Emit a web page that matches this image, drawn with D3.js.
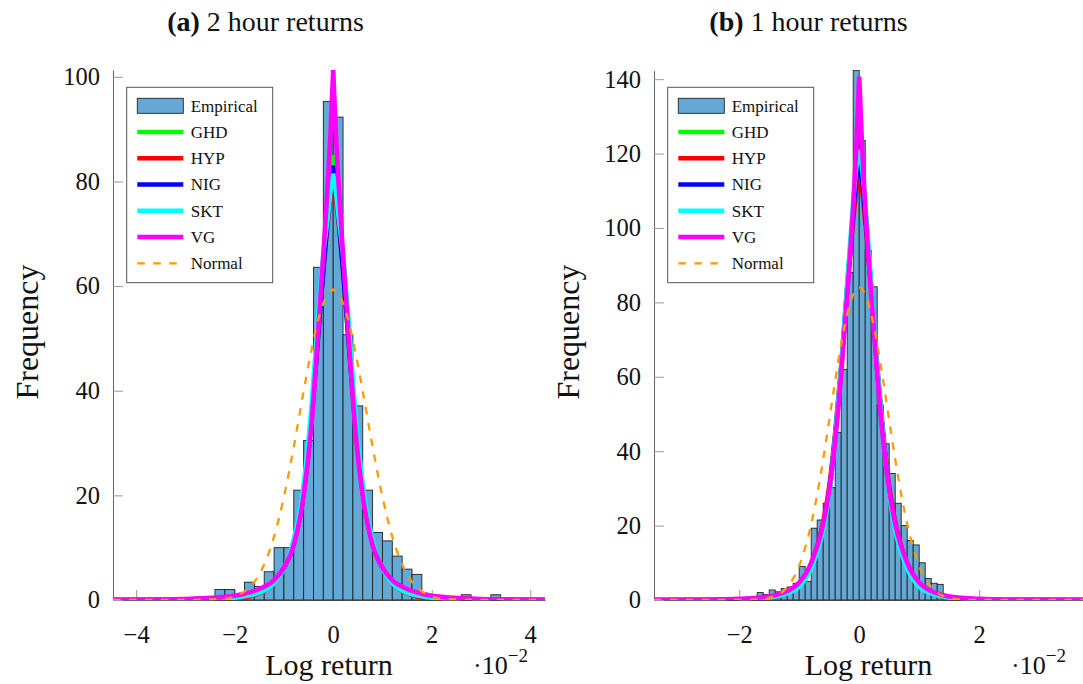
<!DOCTYPE html>
<html>
<head>
<meta charset="utf-8">
<script src="https://cdn.jsdelivr.net/npm/d3@7"></script>
<style>
	body { margin: 0; background: #fff; }
	svg { display: block; font-family: "Liberation Serif", "DejaVu Serif", serif; }
</style>
</head>
<body>
<svg id="chart" width="1083" height="684"></svg>
<script>
/**
 * Values. Log returns are in units of 10^-2.
 */

// (a) 2 hour returns: histogram, bin width 0.2 starting at -2.4
let binStartA = -2.4;
let binWidthA = 0.2;
let freqA = [2, 2, 1, 3.4, 2.6, 5.4, 10, 10, 21, 30.5, 63.6, 95.3, 92.3, 50.7, 37.1, 21, 12.9, 11.3, 8.4, 5.9, 4.9, 1, 0.5, 0, 0, 1, 0, 0, 1];

// (a) fitted densities, sampled at gridA
let gridA = [-4.47, -3.0, -2.2, -1.8, -1.5, -1.2, -1.0, -0.8, -0.6, -0.45, -0.3, -0.2, -0.1, -0.05, 0, 0.05, 0.1, 0.2, 0.3, 0.45, 0.6, 0.8, 1.0, 1.2, 1.5, 1.8, 2.2, 3.0, 4.30];
let ghdA = [0.02, 0.1, 0.4, 0.9, 1.8, 3.5, 6.0, 10.8, 20.5, 33.5, 51, 63, 75, 81, 85, 81, 75, 63, 51, 33.5, 20.5, 10.8, 6.0, 3.5, 1.8, 0.9, 0.4, 0.1, 0.02];
let hypA = [0, 0.02, 0.15, 0.5, 1.3, 3.2, 6.0, 11.3, 21.5, 34.5, 52, 63.5, 73, 77, 79.7, 77, 73, 63.5, 52, 34.5, 21.5, 11.3, 6.0, 3.2, 1.3, 0.5, 0.15, 0.02, 0];
let nigA = [0.02, 0.1, 0.4, 0.95, 1.9, 3.6, 6.1, 10.8, 20.5, 33.5, 51, 63, 74, 79.5, 83, 79.5, 74, 63, 51, 33.5, 20.5, 10.8, 6.1, 3.6, 1.9, 0.95, 0.4, 0.1, 0.02];
let sktA = [0.03, 0.1, 0.3, 0.7, 1.4, 3.2, 6.0, 11.5, 22, 36, 55, 66, 74, 78.5, 81.5, 78.5, 74, 66, 55, 36, 22, 11.5, 6.0, 3.2, 1.4, 0.7, 0.3, 0.1, 0.03];
let vgA = [0.06, 0.2, 0.6, 1.2, 2.1, 3.8, 6.2, 10.5, 20, 32.5, 52, 66, 81, 90, 101.3, 90, 81, 66, 52, 32.5, 20, 10.5, 6.2, 3.8, 2.1, 1.2, 0.6, 0.2, 0.06];
let normA = [0, 0.003, 0.28, 1.66, 4.9, 12.1, 19.7, 29.3, 39.9, 47.4, 53.7, 56.7, 58.6, 59.1, 59.3, 59.1, 58.6, 56.7, 53.7, 47.4, 39.9, 29.3, 19.7, 12.1, 4.9, 1.66, 0.28, 0.003, 0];

// (b) 1 hour returns: histogram, bin width 0.1 starting at -2.2
let binStartB = -2.2;
let binWidthB = 0.1;
let freqB = [0.5, 0.5, 0, 0, 0.5, 2, 1.5, 2.7, 2.2, 3.1, 3.5, 4.5, 9, 5, 19.3, 21.5, 26, 30.2, 45, 62, 88, 142.3, 123.5, 94, 84.2, 52.4, 42, 34, 26, 20, 16, 14.8, 10, 5.8, 4.5, 4.2, 1.3, 0.9, 0.4];

// (b) fitted densities, sampled at gridB
let gridB = [-3.42, -2.5, -2.0, -1.7, -1.4, -1.2, -1.0, -0.8, -0.6, -0.5, -0.4, -0.3, -0.2, -0.1, -0.05, 0, 0.05, 0.1, 0.2, 0.3, 0.4, 0.5, 0.6, 0.8, 1.0, 1.2, 1.4, 1.7, 2.0, 2.5, 3.73];
let ghdB = [0.01, 0.06, 0.18, 0.4, 1.0, 2.1, 4.4, 9.5, 20, 29, 44, 62, 84, 105, 114, 118.5, 114, 105, 84, 62, 44, 29, 20, 9.5, 4.4, 2.1, 1.0, 0.4, 0.18, 0.06, 0.01];
let hypB = [0, 0.01, 0.07, 0.25, 0.8, 1.9, 4.3, 9.8, 21, 30.5, 45, 63, 84, 102, 110, 113, 110, 102, 84, 63, 45, 30.5, 21, 9.8, 4.3, 1.9, 0.8, 0.25, 0.07, 0.01, 0];
let nigB = [0.01, 0.06, 0.18, 0.4, 1.0, 2.1, 4.4, 9.5, 20, 29, 44, 62, 84, 104, 113, 117, 113, 104, 84, 62, 44, 29, 20, 9.5, 4.4, 2.1, 1.0, 0.4, 0.18, 0.06, 0.01];
let sktB = [0.02, 0.06, 0.15, 0.35, 0.9, 1.8, 3.6, 8.5, 19, 28.5, 44, 63, 85, 107, 116, 121, 116, 107, 85, 63, 44, 28.5, 19, 8.5, 3.6, 1.8, 0.9, 0.35, 0.15, 0.06, 0.02];
let vgB = [0.04, 0.12, 0.3, 0.6, 1.3, 2.4, 4.7, 10, 20.5, 29.5, 43, 61, 82, 106, 121, 140.7, 121, 106, 82, 61, 43, 29.5, 20.5, 10, 4.7, 2.4, 1.3, 0.6, 0.3, 0.12, 0.03];
let normB = [0, 0, 0.01, 0.14, 1.09, 3.45, 9.2, 20.4, 37.8, 48.3, 58.9, 68.8, 76.9, 82.2, 83.5, 84, 83.5, 82.2, 76.9, 68.8, 58.9, 48.3, 37.8, 20.4, 9.2, 3.45, 1.09, 0.14, 0.01, 0, 0];

// Tick values
let xTicksA = [-4, -2, 0, 2, 4];
let yTicksA = [0, 20, 40, 60, 80, 100];
let xTicksB = [-2, 0, 2];
let yTicksB = [0, 20, 40, 60, 80, 100, 120, 140];

// Series styling (legend order = drawing order)
let fits = [
	{ name: "GHD", color: "#00ff00" },
	{ name: "HYP", color: "#ff0000" },
	{ name: "NIG", color: "#0000ff" },
	{ name: "SKT", color: "#00ffff" },
	{ name: "VG", color: "#ff00ff" }
];
let barFill = "#64a8d6";
let normalColor = "#ff9a00";
let dash = "7.5,8.5";

let panels = [
	{
		label: "(a)", title: " 2 hour returns",
		left: 113, right: 545, top: 70, bottom: 600,
		xDomain: [-4.47, 4.30], yMax: 101.3,
		xTicks: xTicksA, yTicks: yTicksA,
		binStart: binStartA, binWidth: binWidthA, freq: freqA,
		grid: gridA, curves: [ghdA, hypA, nigA, sktA, vgA], normal: normA
	},
	{
		label: "(b)", title: " 1 hour returns",
		left: 654, right: 1083, top: 70.6, bottom: 600,
		xDomain: [-3.42, 3.73], yMax: 142.3,
		xTicks: xTicksB, yTicks: yTicksB,
		binStart: binStartB, binWidth: binWidthB, freq: freqB,
		grid: gridB, curves: [ghdB, hypB, nigB, sktB, vgB], normal: normB
	}
];

let svg = d3.select("#chart");

/**
 * Draw one pgfplots-like panel
 */
function drawPanel(p, i) {
	let x = d3.scaleLinear().domain(p.xDomain).range([p.left, p.right]);
	let y = d3.scaleLinear().domain([0, p.yMax]).range([p.bottom, p.top]);
	let g = svg.append("g").attr("class", "panel");

	let clipId = "plotClip" + i;
	svg.append("clipPath").attr("id", clipId)
		.append("rect")
		.attr("x", p.left).attr("y", p.top)
		.attr("width", p.right - p.left).attr("height", p.bottom - p.top);

	// Axes: left and bottom only, ticks pointing inward
	let xAxis = d3.axisBottom(x).tickValues(p.xTicks)
		.tickSizeInner(-10).tickSizeOuter(0).tickPadding(26);
	let yAxis = d3.axisLeft(y).tickValues(p.yTicks)
		.tickSizeInner(-10).tickSizeOuter(0).tickPadding(13);

	let gx = g.append("g").attr("transform", "translate(0," + p.bottom + ")").call(xAxis);
	let gy = g.append("g").attr("transform", "translate(" + p.left + ",0)").call(yAxis);
	[gx, gy].forEach(function(ax) {
		ax.attr("font-family", null).attr("font-size", null);
		ax.select(".domain").attr("stroke", "#666").attr("stroke-width", 1);
		ax.selectAll(".tick line").attr("stroke", "#999").attr("stroke-width", 1);
		ax.selectAll(".tick text").attr("fill", "#111").style("font-size", "24.5px");
	});

	// Histogram
	let bars = p.freq.map(function(v, k) {
		return { x0: p.binStart + k * p.binWidth, x1: p.binStart + (k + 1) * p.binWidth, value: v };
	}).filter(function(d) { return d.value > 0; });

	g.append("g")
		.selectAll("rect")
		.data(bars)
		.enter()
		.append("rect")
		.attr("x", function(d) { return x(d.x0); })
		.attr("y", function(d) { return y(d.value); })
		.attr("width", function(d) { return x(d.x1) - x(d.x0); })
		.attr("height", function(d) { return y(0) - y(d.value); })
		.attr("fill", barFill)
		.attr("stroke", "#222")
		.attr("stroke-width", 0.9);

	// Fitted densities: each side of the mode is a smooth curve, joined in a sharp peak
	let line = d3.line()
		.x(function(d) { return x(d[0]); })
		.y(function(d) { return y(d[1]); })
		.curve(d3.curveMonotoneX);

	function peakedPath(vals) {
		let pts = p.grid.map(function(u, j) { return [u, vals[j]]; });
		let m = d3.maxIndex(vals);
		let leftPart = line(pts.slice(0, m + 1));
		let rightPart = line(pts.slice(m)).replace(/^M[^A-Za-z]*/, "");
		return leftPart + rightPart;
	}

	let curves = g.append("g").attr("clip-path", "url(#" + clipId + ")");
	fits.forEach(function(s, k) {
		curves.append("path")
			.attr("d", peakedPath(p.curves[k]))
			.attr("fill", "none")
			.attr("stroke", s.color)
			.attr("stroke-width", 4.6)
			.attr("stroke-linejoin", "miter");
	});

	curves.append("path")
		.attr("d", line(p.grid.map(function(u, j) { return [u, p.normal[j]]; })))
		.attr("fill", "none")
		.attr("stroke", normalColor)
		.attr("stroke-width", 2.3)
		.attr("stroke-dasharray", dash);

	// Legend
	let lx = p.left + 13.7;
	let ly = 87.3;
	let legend = g.append("g").attr("transform", "translate(" + lx + "," + ly + ")");
	legend.append("rect")
		.attr("width", 146).attr("height", 195.4)
		.attr("fill", "#fff").attr("stroke", "#555").attr("stroke-width", 1);

	let entries = [{ name: "Empirical", type: "bar" }]
		.concat(fits.map(function(s) { return { name: s.name, type: "line", color: s.color }; }))
		.concat([{ name: "Normal", type: "dash", color: normalColor }]);

	entries.forEach(function(e, k) {
		let cy = 18.5 + k * 26.25;
		if (e.type === "bar") {
			legend.append("rect")
				.attr("x", 10.6).attr("y", cy - 7.5)
				.attr("width", 46).attr("height", 15)
				.attr("fill", barFill).attr("stroke", "#222").attr("stroke-width", 0.9);
		} else {
			legend.append("line")
				.attr("x1", 10.6).attr("x2", 56.6)
				.attr("y1", cy).attr("y2", cy)
				.attr("stroke", e.color)
				.attr("stroke-width", e.type === "dash" ? 2.3 : 4.6)
				.attr("stroke-dasharray", e.type === "dash" ? dash : null);
		}
		legend.append("text")
			.attr("x", 64).attr("y", cy).attr("dy", "0.35em")
			.style("font-size", "17px")
			.attr("fill", "#111")
			.text(e.name);
	});

	// Axis labels
	let midX = (p.left + p.right) / 2;
	g.append("text")
		.attr("x", midX).attr("y", 675)
		.attr("text-anchor", "middle")
		.style("font-size", "30px")
		.attr("fill", "#111")
		.text("Log return");

	g.append("text")
		.attr("transform", "translate(" + (p.left - 75) + ",332) rotate(-90)")
		.attr("text-anchor", "middle")
		.style("font-size", "32px")
		.attr("fill", "#111")
		.text("Frequency");

	let scaleNote = g.append("text")
		.attr("x", p.right - 72).attr("y", 674)
		.attr("fill", "#111")
		.style("font-size", "26px");
	scaleNote.append("tspan").text("\u00b710");
	scaleNote.append("tspan").attr("dy", -12).style("font-size", "19px").text("\u22122");

	// Title
	let title = g.append("text")
		.attr("x", midX - (i === 0 ? 63.5 : 60)).attr("y", 31)
		.attr("text-anchor", "middle")
		.attr("fill", "#111")
		.style("font-size", "28px");
	title.append("tspan").attr("font-weight", "bold").text(p.label);
	title.append("tspan").text(p.title);
}

panels.forEach(drawPanel);
</script>
</body>
</html>
